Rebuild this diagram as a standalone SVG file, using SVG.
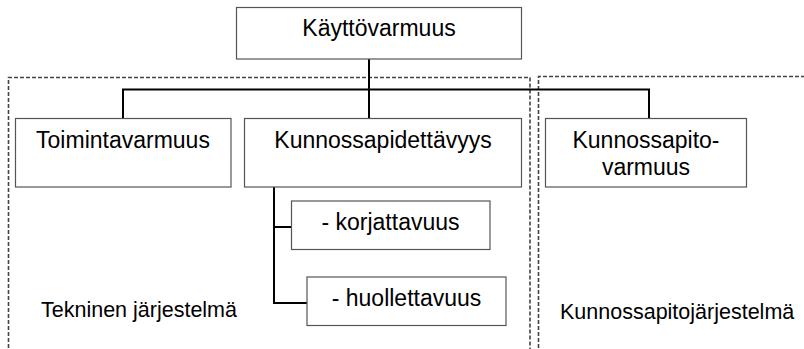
<svg xmlns="http://www.w3.org/2000/svg" width="804" height="349" viewBox="0 0 804 349">
<style>
.box{fill:#fff;stroke:#555;stroke-width:1.2}
.region{fill:none;stroke:#444;stroke-width:1.6;stroke-dasharray:4 2}
.conn{fill:none;stroke:#000;stroke-width:2}
.lbl{font-family:"Liberation Sans",Arial,sans-serif;font-size:23px;fill:#000;text-anchor:middle}
.rlbl{font-family:"Liberation Sans",Arial,sans-serif;font-size:21.5px;fill:#000}
</style>
<rect width="804" height="349" fill="#fff"/>
<g id="regions">
<path class="region" d="M8.5,360 V77.5 H530 V360"/>
<path class="region" d="M538.5,360 V76.5 H810"/>
</g>
<g id="connectors">
<path class="conn" d="M369,59 V118"/>
<path class="conn" d="M123,118 V89.5 H649 V118"/>
<path class="conn" d="M274,187 V303 H307"/>
<path class="conn" d="M274,227 H291"/>
</g>
<g id="kayttovarmuus"><rect class="box" x="236.5" y="7.5" width="285" height="51.5"/><text class="lbl" x="379" y="36">Käyttövarmuus</text></g>
<g id="toimintavarmuus"><rect class="box" x="15.5" y="118.5" width="215.5" height="68.5"/><text class="lbl" x="123" y="148">Toimintavarmuus</text></g>
<g id="kunnossapidettavyys"><rect class="box" x="244.5" y="118.5" width="277" height="68.5"/><text class="lbl" x="383" y="148">Kunnossapidettävyys</text></g>
<g id="kunnossapitovarmuus"><rect class="box" x="545.5" y="118.5" width="201" height="68.5"/><text class="lbl" x="646" y="148">Kunnossapito-</text><text class="lbl" x="646" y="175">varmuus</text></g>
<g id="korjattavuus"><rect class="box" x="291.5" y="201" width="198.5" height="48.5"/><text class="lbl" x="390.5" y="230">- korjattavuus</text></g>
<g id="huollettavuus"><rect class="box" x="307" y="277" width="199" height="48.5"/><text class="lbl" x="406.5" y="306">- huollettavuus</text></g>
<g id="tekninen"><text class="rlbl" x="41" y="317">Tekninen järjestelmä</text></g>
<g id="kunnossapitojarjestelma"><text class="rlbl" x="560" y="319">Kunnossapitojärjestelmä</text></g>
</svg>
